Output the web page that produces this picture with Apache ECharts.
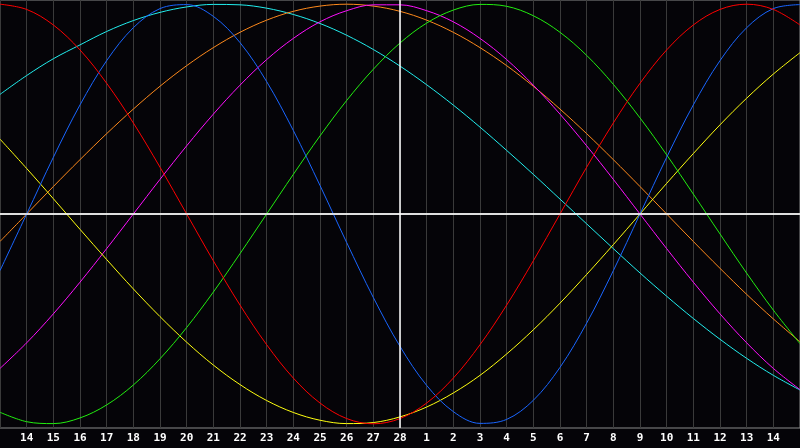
<!DOCTYPE html>
<html>
<head>
<meta charset="utf-8">
<script src="https://cdn.jsdelivr.net/npm/echarts@6/dist/echarts.min.js"></script>
<style>
html,body{margin:0;padding:0;background:#050408;}
#chart{width:800px;height:448px;}
</style>
</head>
<body>
<div id="chart"></div>
<script>
const days = ['13','14','15','16','17','18','19','20','21','22','23','24','25','26','27','28',
  '1','2','3','4','5','6','7','8','9','10','11','12','13','14','15'];
const todayIndex = 15;

const red = [1,0.975,0.901,0.782,0.623,0.434,0.223,0,-0.223,-0.434,-0.623,-0.782,-0.901,-0.975,-1,-0.975,
  -0.901,-0.782,-0.623,-0.434,-0.223,0,0.223,0.434,0.623,0.782,0.901,0.975,1,0.975,0.901];
const blue = [-0.27,0,0.27,0.52,0.731,0.888,0.979,0.998,0.942,0.817,0.631,0.398,0.136,-0.136,-0.398,-0.631,
  -0.817,-0.942,-0.998,-0.979,-0.888,-0.731,-0.52,-0.27,0,0.27,0.52,0.731,0.888,0.979,0.998];
const green = [-0.945,-0.99,-0.999,-0.972,-0.91,-0.815,-0.69,-0.541,-0.372,-0.189,0,0.189,0.372,0.541,0.69,0.815,
  0.91,0.972,0.999,0.99,0.945,0.866,0.756,0.618,0.458,0.282,0.095,-0.095,-0.282,-0.458,-0.618];
const orange = [-0.131,0,0.131,0.259,0.383,0.5,0.609,0.707,0.793,0.866,0.924,0.966,0.991,1,0.991,0.966,
  0.924,0.866,0.793,0.707,0.609,0.5,0.383,0.259,0.131,0,-0.131,-0.259,-0.383,-0.5,-0.609];
const magenta = [-0.736,-0.614,-0.476,-0.325,-0.165,0,0.165,0.325,0.476,0.614,0.736,0.837,0.916,0.969,0.997,0.997,
  0.969,0.916,0.837,0.736,0.614,0.476,0.325,0.165,0,-0.165,-0.325,-0.476,-0.614,-0.736,-0.837];
const yellow = [0.357,0.217,0.073,-0.073,-0.217,-0.357,-0.489,-0.611,-0.72,-0.813,-0.889,-0.946,-0.983,-0.999,-0.994,-0.967,
  -0.92,-0.853,-0.769,-0.667,-0.552,-0.425,-0.288,-0.146,0,0.146,0.288,0.425,0.552,0.667,0.769];
const cyan = [0.57,0.66,0.74,0.806,0.87,0.922,0.961,0.987,0.999,0.997,0.981,0.951,0.908,0.852,0.784,0.705,
  0.616,0.519,0.414,0.303,0.189,0.071,-0.047,-0.165,-0.281,-0.392,-0.498,-0.597,-0.688,-0.769,-0.839];

const seriesList = [
  {name:'cyan', data:cyan, color:'#22eeee'},
  {name:'orange', data:orange, color:'#ff8a1c'},
  {name:'magenta', data:magenta, color:'#ff10ff'},
  {name:'yellow', data:yellow, color:'#ffff10'},
  {name:'green', data:green, color:'#22ee10'},
  {name:'blue', data:blue, color:'#1a66ff'},
  {name:'red', data:red, color:'#ff0000'}
];

const chart = echarts.init(document.getElementById('chart'), null, {renderer:'canvas'});
const series = seriesList.map(s => ({
  name: s.name, type: 'line', data: s.data, smooth: 0.35, showSymbol: false, symbol: 'none',
  lineStyle: {color: s.color, width: 1}, itemStyle:{color:s.color}, z: 3, animation: false
}));
series.push({
  name: 'ref', type: 'line', data: [], z: 2, animation: false,
  markLine: {
    silent: true, symbol: ['none','none'], animation: false,
    label: {show: false},
    lineStyle: {color: '#ffffff', width: 1.5, type: 'solid'},
    data: [{xAxis: todayIndex}, {yAxis: 0}]
  }
});

chart.setOption({
  backgroundColor: '#050408',
  animation: false,
  grid: {left: 0, right: 0, top: 0, bottom: 20, show: true, borderColor: '#8a8a8a', borderWidth: 1, backgroundColor:'#050408'},
  xAxis: {
    type: 'category', data: days, boundaryGap: false,
    axisLine: {show: true, lineStyle: {color: '#a8a8a8', width: 1.5}},
    axisTick: {show: false},
    axisLabel: {
      interval: (i) => i > 0 && i < days.length - 1,
      color: '#ffffff', fontFamily: 'DejaVu Sans Mono', fontWeight: 'bold', fontSize: 11, margin: 5
    },
    splitLine: {show: true, interval: 0, lineStyle: {color: '#3a3a3a', width: 1}}
  },
  yAxis: {
    type: 'value', min: -1.02, max: 1.02,
    axisLine: {show: false}, axisTick: {show: false}, axisLabel: {show: false}, splitLine: {show: false}
  },
  series: series
});
</script>
</body>
</html>
